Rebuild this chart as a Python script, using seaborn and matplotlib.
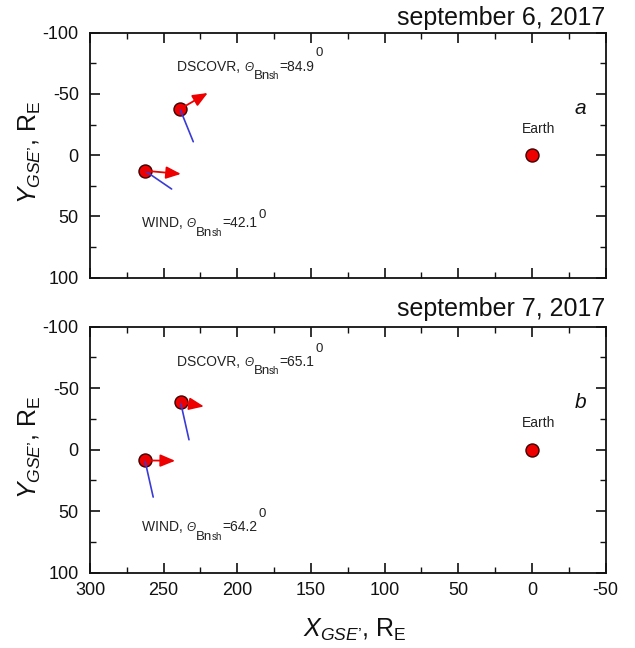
import numpy as np
import pandas as pd
import matplotlib
matplotlib.use("Agg")
import matplotlib.pyplot as plt
import seaborn as sns
from matplotlib.ticker import MultipleLocator

sns.set_theme(style="ticks")
plt.rcParams['font.family'] = ['Liberation Sans', 'DejaVu Sans']
plt.rcParams['mathtext.fontset'] = 'custom'
plt.rcParams['mathtext.rm'] = 'Liberation Sans'
plt.rcParams['mathtext.it'] = 'Liberation Sans:italic'
plt.rcParams['mathtext.bf'] = 'Liberation Sans:bold'
plt.rcParams['axes.unicode_minus'] = False

# ---- data ----
dates = ["september 6, 2017", "september 7, 2017"]
panel_letters = ["a", "b"]
craft = ["DSCOVR", "WIND"]
# spacecraft positions (X_GSE, Y_GSE) per day
x_pos = [[238.9, 262.7], [238.5, 262.7]]
y_pos = [[-37.7, 12.7], [-38.5, 8.7]]
# red arrow vectors
red_dx = [[-18.8, -24.4], [-15.8, -20.5]]
red_dy = [[-13.1, 2.6], [3.3, 0.3]]
# blue line vectors
blue_dx = [[-9.0, -18.1], [-5.7, -5.6]]
blue_dy = [[26.7, 14.9], [30.4, 29.8]]
theta = [[84.9, 42.1], [65.1, 64.2]]
earth_x, earth_y = 0.0, 0.0

# ---- layout ----
fig = plt.figure(figsize=(6.35, 6.48), dpi=100)
ax_a = fig.add_axes([0.1417, 0.5715, 0.8121, 0.378])
ax_b = fig.add_axes([0.1417, 0.1162, 0.8121, 0.3796])
axes = [ax_a, ax_b]

label_x = [[241, 265], [241, 265]]
label_y = [[-69, 59], [-68.3, 66.4]]
sup_raise = [[10.8, 6.8], [10.0, 10.0]]
title_pad = [5.5, 7.5]
TXT = "#222222"
YLAB = "$\\mathit{Y}_{\\mathit{GSE\u2019}}$, R$_{\\mathrm{E}}$"
XLAB = "$\\mathit{X}_{\\mathit{GSE\u2019}}$, R$_{\\mathrm{E}}$"


def comp_text(ax, x, y, parts):
    s0, fs0, _, _, st0 = parts[0]
    prev = ax.text(x, y, s0, fontsize=fs0, style=st0,
                   ha="left", va="baseline", color=TXT)
    for s, fs, dx, dy, st in parts[1:]:
        prev = ax.annotate(s, xy=(1, y), xycoords=(prev, "data"),
                           xytext=(dx, dy), textcoords="offset points",
                           fontsize=fs, style=st, ha="left", va="baseline",
                           color=TXT, annotation_clip=False)
    return prev


for i, ax in enumerate(axes):
    df = pd.DataFrame({"x": x_pos[i] + [earth_x], "y": y_pos[i] + [earth_y],
                       "name": craft + ["Earth"]})
    sns.scatterplot(data=df, x="x", y="y", ax=ax, s=88, color="#ee0000",
                    edgecolor="#400000", linewidth=1.0, zorder=2, legend=False)
    for j in range(2):
        ax.plot([x_pos[i][j], x_pos[i][j] + blue_dx[i][j]],
                [y_pos[i][j], y_pos[i][j] + blue_dy[i][j]],
                color="#3a3ad8", lw=1.2, zorder=3)
        ax.annotate("", xy=(x_pos[i][j] + red_dx[i][j], y_pos[i][j] + red_dy[i][j]),
                    xytext=(x_pos[i][j], y_pos[i][j]),
                    arrowprops=dict(arrowstyle="-|>,head_length=0.6,head_width=0.25",
                                    color="#ee0000", lw=1.3,
                                    mutation_scale=15, shrinkA=0, shrinkB=0),
                    zorder=4)
        comp_text(ax, label_x[i][j], label_y[i][j], [
            (craft[j] + ", ", 10, 0, 0, "normal"),
            ("\u0398", 8.5, 0.3, 0, "italic"),
            ("Bn", 9.5, 0.3, -6.2, "normal"),
            ("sh", 7, -0.6, -6.2, "normal"),
            (f"={theta[i][j]:.1f}", 10, 0.0, 0, "normal"),
            ("0", 9.5, 0.8, sup_raise[i][j], "normal"),
        ])
    ax.text(earth_x - 4.5, -21.6, "Earth", fontsize=10, ha="center", va="center", color=TXT)
    ax.text(-32.6, -38.5, panel_letters[i], fontsize=15, style="italic",
            ha="center", va="center", color="#111111")

    ax.set_xlim(300, -50)
    ax.set_ylim(100, -100)
    ax.xaxis.set_major_locator(MultipleLocator(50))
    ax.xaxis.set_minor_locator(MultipleLocator(25))
    ax.yaxis.set_major_locator(MultipleLocator(50))
    ax.yaxis.set_minor_locator(MultipleLocator(25))
    ax.tick_params(which="both", direction="in", top=True, right=True,
                   color="#111111", labelcolor="#111111")
    ax.tick_params(which="major", length=7, width=1.2, labelsize=13)
    ax.tick_params(axis="x", which="major", pad=7)
    ax.tick_params(axis="y", which="major", pad=8)
    ax.tick_params(which="minor", length=4, width=1.0)
    for sp in ax.spines.values():
        sp.set_linewidth(1.3)
        sp.set_color("#111111")
    ax.set_ylabel(YLAB, fontsize=18, color="#111111")
    ax.yaxis.set_label_coords(-0.091, 0.51)
    ax.set_xlabel("")
    ax.set_title(dates[i], loc="right", fontsize=18, pad=title_pad[i], color="#111111")

ax_a.tick_params(labelbottom=False)
ax_b.set_xlabel(XLAB, fontsize=18, color="#111111")
ax_b.xaxis.set_label_coords(0.5136, -0.18)

fig.savefig("out.png", dpi=100)
